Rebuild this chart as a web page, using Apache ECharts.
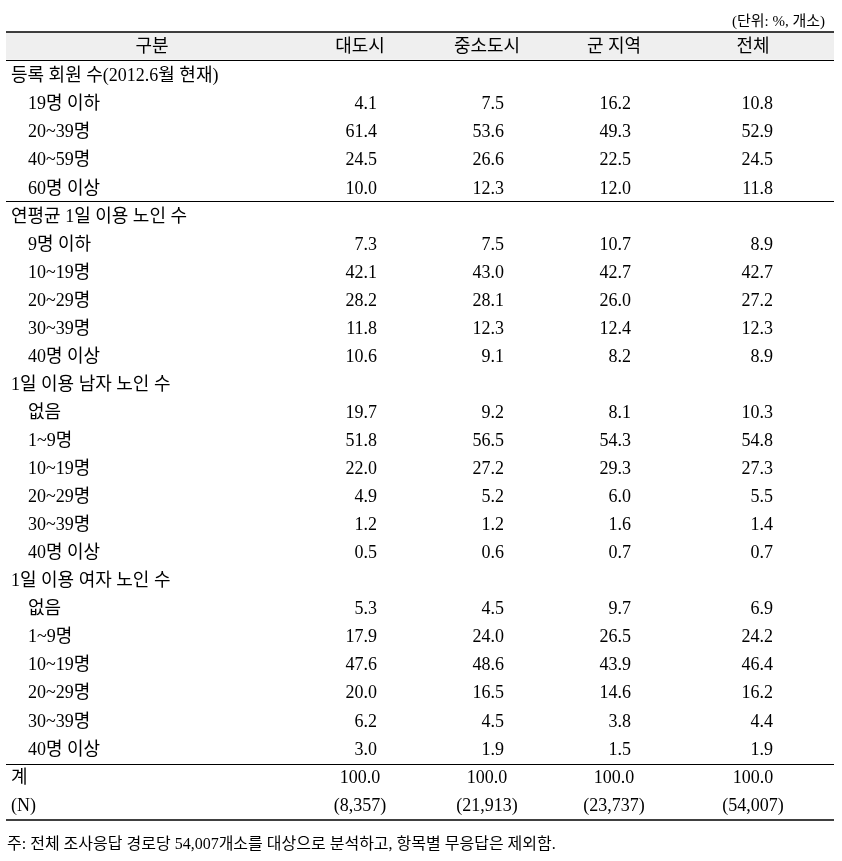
<!DOCTYPE html>
<html>
<head>
<meta charset="utf-8">
<script src="https://cdn.jsdelivr.net/npm/echarts@6/dist/echarts.min.js"></script>
<style>
  html, body { margin: 0; padding: 0; background: #fff; }
  #chart { width: 842px; height: 861px; }
</style>
</head>
<body>
<div id="chart"></div>
<script>
// 표 데이터
const columns = ['대도시', '중소도시', '군 지역', '전체']
const sectionTitles = ['등록 회원 수(2012.6월 현재)', '연평균 1일 이용 노인 수', '1일 이용 남자 노인 수', '1일 이용 여자 노인 수']

const memberRows = ['19명 이하', '20~39명', '40~59명', '60명 이상']
const memberValues = [[4.1, 7.5, 16.2, 10.8], [61.4, 53.6, 49.3, 52.9], [24.5, 26.6, 22.5, 24.5], [10.0, 12.3, 12.0, 11.8]]

const dailyRows = ['9명 이하', '10~19명', '20~29명', '30~39명', '40명 이상']
const dailyValues = [[7.3, 7.5, 10.7, 8.9], [42.1, 43.0, 42.7, 42.7], [28.2, 28.1, 26.0, 27.2], [11.8, 12.3, 12.4, 12.3], [10.6, 9.1, 8.2, 8.9]]

const maleRows = ['없음', '1~9명', '10~19명', '20~29명', '30~39명', '40명 이상']
const maleValues = [[19.7, 9.2, 8.1, 10.3], [51.8, 56.5, 54.3, 54.8], [22.0, 27.2, 29.3, 27.3], [4.9, 5.2, 6.0, 5.5], [1.2, 1.2, 1.6, 1.4], [0.5, 0.6, 0.7, 0.7]]

const femaleRows = ['없음', '1~9명', '10~19명', '20~29명', '30~39명', '40명 이상']
const femaleValues = [[5.3, 4.5, 9.7, 6.9], [17.9, 24.0, 26.5, 24.2], [47.6, 48.6, 43.9, 46.4], [20.0, 16.5, 14.6, 16.2], [6.2, 4.5, 3.8, 4.4], [3.0, 1.9, 1.5, 1.9]]

const totalValues = [100.0, 100.0, 100.0, 100.0]
const nValues = [8357, 21913, 23737, 54007]

const unitText = '(단위: %, 개소)'
const noteText = '주: 전체 조사응답 경로당 54,007개소를 대상으로 분석하고, 항목별 무응답은 제외함.'

// 레이아웃 (x축 단위 = 픽셀)
const FONT = "'Liberation Serif', 'Noto Sans CJK KR', serif"
const LEFT = 5
const INDENT = 22
const headCenter = 146
const colCenter = [354, 481, 608, 747]
const colRight = [371, 498, 625, 767]

const fmtPct = v => v.toFixed(1)
const fmtN = n => '(' + String(n).replace(/\B(?=(\d{3})+(?!\d))/g, ',') + ')'

// 셀 목록 만들기
const cells = []
function addCell(x, y, text, align) {
  cells.push({ value: [x, y], text: text, align: align })
}

// 헤더
addCell(headCenter, -0.55, '구분', 'center')
columns.forEach((c, i) => addCell(colCenter[i], -0.55, c, 'center'))

let row = 0
const groups = [
  [memberRows, memberValues],
  [dailyRows, dailyValues],
  [maleRows, maleValues],
  [femaleRows, femaleValues]
]
groups.forEach((g, gi) => {
  addCell(LEFT, row + 0.5, sectionTitles[gi], 'left')
  row++
  g[0].forEach((label, ri) => {
    addCell(INDENT, row + 0.5, label, 'left')
    g[1][ri].forEach((v, ci) => addCell(colRight[ci], row + 0.5, fmtPct(v), 'right'))
    row++
  })
})
addCell(LEFT, row + 0.5, '계', 'left')
totalValues.forEach((v, ci) => addCell(colCenter[ci], row + 0.5, fmtPct(v), 'center'))
row++
addCell(LEFT, row + 0.5, '(N)', 'left')
nValues.forEach((v, ci) => addCell(colCenter[ci], row + 0.5, fmtN(v), 'center'))
row++

const chart = echarts.init(document.getElementById('chart'))
chart.setOption({
  animation: false,
  backgroundColor: '#fff',
  title: [{
    text: unitText,
    right: 12,
    top: 10,
    textStyle: { fontSize: 15, fontWeight: 'normal', fontFamily: FONT, color: '#000' }
  }, {
    text: noteText,
    left: 2,
    top: 832,
    textStyle: { fontSize: 16, fontWeight: 'normal', fontFamily: FONT, color: '#000' }
  }],
  grid: { left: 6, right: 8, top: 31.7, bottom: 41 },
  xAxis: { type: 'value', min: 0, max: 828, show: false },
  yAxis: { type: 'value', min: -1.1, max: 27, inverse: true, show: false },
  series: [{
    type: 'custom',
    clip: false,
    data: cells.map(c => c.value),
    renderItem: function (params, api) {
      const c = cells[params.dataIndex]
      const p = api.coord([api.value(0), api.value(1)])
      return {
        type: 'text',
        x: p[0],
        y: p[1],
        style: {
          text: c.text,
          align: c.align,
          verticalAlign: 'middle',
          fontSize: 18,
          fontFamily: FONT,
          fill: '#000'
        }
      }
    },
    markArea: {
      silent: true,
      itemStyle: { color: '#efefef' },
      data: [[{ yAxis: -1.1 }, { yAxis: -0.1 }]]
    },
    markLine: {
      silent: true,
      symbol: 'none',
      label: { show: false },
      lineStyle: { color: '#000', width: 1.2, type: 'solid' },
      data: [
        { yAxis: -1.1, lineStyle: { width: 1.6 } },
        { yAxis: -0.1 },
        { yAxis: 4.93 },
        { yAxis: 25 },
        { yAxis: 27, lineStyle: { width: 1.6 } }
      ]
    }
  }]
})
</script>
</body>
</html>
